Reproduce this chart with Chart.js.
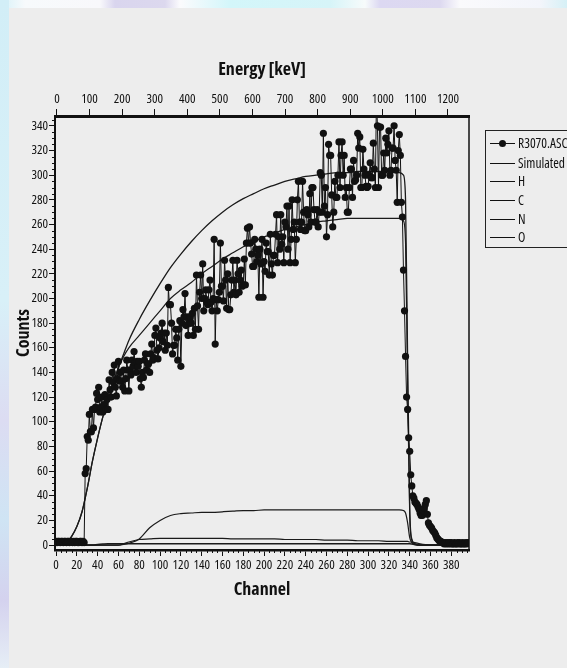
<!DOCTYPE html>
<html>
<head>
<meta charset="utf-8">
<script src="https://cdn.jsdelivr.net/npm/chart.js@4.4.1/dist/chart.umd.min.js"></script>
<style>
  html, body { margin: 0; padding: 0; }
  body { width: 567px; height: 668px; background: #ededed; position: relative; overflow: hidden; }
  #topstrip { position: absolute; left: 0; top: 0; width: 567px; height: 8px;
    background: linear-gradient(to right, #d6f1f8 0px, #f7fafc 25px, #f8f8fb 100px, #d9d5ee 115px, #dcd8ee 165px,
      #fbfbfd 180px, #d3f6fa 230px, #d6f4f8 330px, #f7fbfb 365px, #dcd8f2 380px, #ddd9f0 440px,
      #fafafc 460px, #f3f5fb 540px, #d6f0f6 567px); }
  #leftstrip { position: absolute; left: 0; top: 0; width: 9px; height: 668px;
    background: linear-gradient(to bottom, #d2eef7 0px, #d8f0f8 300px, #dcdcf2 420px, #cfe4f4 520px, #d4d2ee 600px, #e6eef6 668px); }
  canvas { position: absolute; left: 0; top: 0; }
  #legend { position: absolute; left: 485px; top: 130px; width: 95px; height: 118px; border: 1px solid #222;
    box-sizing: border-box; color: #111; font-family: 'Open Sans', sans-serif; font-stretch: condensed; font-size: 13.5px; }
  .row { position: absolute; left: 4px; height: 16px; display: flex; align-items: center; white-space: nowrap; }
  .ln { width: 25px; height: 0; border-top: 1px solid #111; position: relative; margin-right: 3px; }
  .dot { width: 7px; height: 7px; border-radius: 50%; background: #111; position: absolute; left: 9px; top: -4px; }
</style>
</head>
<body>
<div id="topstrip"></div>
<div id="leftstrip"></div>
<canvas id="spectrum" width="567" height="668"></canvas>
<div id="legend"></div>
<script>
// measured spectrum, one value per channel starting at channel 0
var measured = [
  3, 2, 3, 3, 2, 3, 3, 2, 3, 3,
  2, 3, 3, 2, 3, 3, 2, 3, 2, 3,
  3, 2, 2, 3, 3, 2, 3, 2, 58, 62,
  88, 85, 106, 92, 92, 110, 95, 110, 112, 123,
  118, 128, 108, 112, 120, 108, 114, 122, 110, 118,
  110, 134, 126, 120, 140, 132, 146, 128, 121, 135,
  149, 133, 140, 133, 128, 142, 125, 135, 150, 142,
  125, 142, 138, 150, 145, 157, 148, 140, 149, 145,
  149, 135, 128, 140, 136, 150, 155, 142, 147, 147,
  140, 155, 163, 150, 152, 170, 176, 158, 151, 160,
  168, 172, 180, 165, 172, 158, 172, 162, 209, 195,
  195, 180, 155, 162, 162, 175, 168, 150, 175, 182,
  145, 180, 191, 185, 204, 178, 185, 170, 180, 185,
  180, 188, 170, 192, 175, 219, 194, 175, 205, 219,
  200, 228, 190, 200, 207, 197, 195, 207, 215, 197,
  190, 200, 248, 163, 199, 190, 199, 205, 245, 210,
  210, 198, 231, 215, 192, 220, 191, 191, 203, 215,
  231, 205, 215, 203, 231, 220, 205, 215, 223, 210,
  211, 232, 211, 245, 257, 245, 258, 245, 236, 226,
  226, 248, 240, 230, 235, 201, 240, 228, 248, 201,
  230, 222, 245, 238, 238, 219, 252, 228, 219, 235,
  235, 252, 268, 229, 250, 240, 268, 244, 250, 229,
  262, 258, 275, 240, 275, 229, 248, 280, 256, 262,
  229, 248, 280, 295, 262, 256, 262, 295, 270, 255,
  255, 272, 268, 258, 285, 262, 290, 290, 272, 262,
  262, 272, 258, 270, 302, 300, 270, 334, 275, 290,
  250, 268, 325, 316, 316, 284, 258, 270, 295, 282,
  282, 300, 327, 290, 316, 327, 300, 316, 282, 290,
  270, 270, 290, 305, 305, 282, 312, 295, 296, 300,
  334, 322, 331, 290, 290, 321, 305, 300, 291, 290,
  291, 300, 310, 298, 298, 326, 305, 290, 362, 340,
  290, 339, 339, 300, 300, 318, 304, 330, 318, 325,
  336, 300, 304, 322, 322, 340, 312, 304, 278, 320,
  333, 316, 278, 266, 223, 190, 153, 120, 110, 87,
  76, 57, 48, 40, 38, 35, 34, 33, 31, 29,
  26, 24, 24, 28, 30, 33, 36, 25, 18, 16,
  15, 14, 12, 11, 10, 8, 6, 5, 4, 3,
  3, 2, 2, 1, 2, 1, 2, 1, 2, 1,
  2, 1, 1, 2, 1, 1, 2, 1, 2, 1,
  1, 2, 1, 1, 2, 1, 2
];

var curveCh = [0, 5, 10, 15, 20, 25, 30, 35, 40, 45, 50, 55, 60, 65, 70, 80, 90, 100, 110, 120,
  130, 140, 150, 160, 170, 180, 190, 200, 210, 220, 230, 240, 250, 260, 270, 280, 290, 300, 310, 320,
  330, 334, 336, 338, 340, 342, 345, 350, 355, 360, 396];
var simulated = [0, 0.5, 2, 7, 15, 27, 46, 68, 87, 104, 118, 131, 144, 155, 166, 183, 198, 212, 225, 236,
  246, 255, 263, 270, 276, 281, 285, 289, 292, 295, 297, 299, 300, 301, 302, 302, 303, 303, 303, 303,
  302, 300, 280, 150, 30, 5, 1, 0, 0, 0, 0];
var hCurve = [0, 0.5, 2, 7, 15, 27, 46, 68, 87, 104, 118, 131, 144, 153, 160, 170, 180, 190, 200, 207,
  213, 220, 226, 232, 237, 242, 246, 250, 253, 256, 258, 260, 262, 263, 264, 265, 265, 265, 265, 265,
  265, 263, 245, 130, 25, 4, 1, 0, 0, 0, 0];
var cCurve = [0, 0, 0, 0, 0, 0, 0, 0, 0, 0, 0, 0, 0, 0.5, 1.5, 5, 14, 20, 24, 25.5,
  26, 26.5, 26.5, 27, 27.5, 28, 28, 28.5, 28.5, 28.5, 28.5, 28.5, 28.5, 28.5, 28.5, 28.5, 28.5, 28.5, 28.5, 28.5,
  28.5, 28, 26, 18, 6, 2, 0.5, 0, 0, 0, 0];
var nCurve = [0, 0, 0, 0, 0, 0, 0, 0, 0, 0, 0, 0, 0, 1, 2.5, 4.5, 5, 5.5, 5.5, 5.5,
  5.5, 5.5, 5.5, 5.5, 5, 5, 5, 5, 5, 4.5, 4.5, 4.5, 4.5, 4, 4, 4, 3.5, 3.5, 3.5, 3,
  3, 3, 3, 3, 2.5, 2.5, 2, 1, 0.3, 0, 0];
var oCurve = [0, 0, 0, 0, 0, 0, 0, 0, 0.5, 0.8, 1, 1, 1, 1, 1, 1, 1, 1, 1, 1,
  1, 1, 1, 1, 1, 1, 1, 1, 1, 1, 1, 1, 1, 1, 1, 1, 1, 1, 1, 1,
  1, 1, 1, 1, 1, 0.8, 0.3, 0, 0, 0, 0];

var seriesNames = ['R3070.ASC', 'Simulated', 'H', 'C', 'N', 'O'];

// tick labels
var channelTicks = [0, 20, 40, 60, 80, 100, 120, 140, 160, 180, 200, 220, 240, 260, 280, 300, 320, 340, 360, 380];
var energyTicks = [0, 100, 200, 300, 400, 500, 600, 700, 800, 900, 1000, 1100, 1200];
var countTicks = [0, 20, 40, 60, 80, 100, 120, 140, 160, 180, 200, 220, 240, 260, 280, 300, 320, 340];

var measuredPts = measured.map((v, i) => ({x: i, y: v}));
function curvePts(arr) {
  return arr.map((v, i) => ({x: curveCh[i], y: v}));
}
function curveSet(name, arr, w) {
  return {
    label: name, data: curvePts(arr), borderColor: '#1a1a1a', borderWidth: w,
    pointRadius: 0, cubicInterpolationMode: 'monotone', fill: false
  };
}

// minor ticks every 5 units on the bottom and left axes, plus the right frame line
var frame = {
  id: 'frame',
  afterDraw(chart) {
    var ctx = chart.ctx, a = chart.chartArea;
    var xs = chart.scales.x, ys = chart.scales.y;
    ctx.save();
    ctx.strokeStyle = '#111';
    ctx.lineWidth = 1.5;
    ctx.beginPath();
    ctx.moveTo(a.right, a.top);
    ctx.lineTo(a.right, a.bottom);
    ctx.stroke();
    ctx.lineWidth = 1;
    ctx.beginPath();
    for (var v = 5; v < 397; v += 5) {
      if (v % 20 === 0) continue;
      var px = Math.round(xs.getPixelForValue(v)) + 0.5;
      ctx.moveTo(px, a.bottom);
      ctx.lineTo(px, a.bottom + 3);
    }
    for (var c = 5; c < 348; c += 5) {
      if (c % 20 === 0) continue;
      var py = Math.round(ys.getPixelForValue(c)) + 0.5;
      ctx.moveTo(a.left, py);
      ctx.lineTo(a.left - 3, py);
    }
    ctx.stroke();
    ctx.restore();
  }
};

Chart.defaults.font.family = "'Open Sans', sans-serif";
Chart.defaults.font.weight = 'condensed';
Chart.defaults.color = '#111';
var tickFont = { size: 13, weight: 'condensed' };
var titleFont = { size: 18, weight: 'bold condensed' };

var chart = new Chart(document.getElementById('spectrum'), {
  type: 'line',
  data: {
    datasets: [
      {
        label: seriesNames[0], data: measuredPts, borderColor: '#111', borderWidth: 1,
        pointRadius: 3.6, pointBackgroundColor: '#111', pointBorderWidth: 0, fill: false, clip: 0
      },
      curveSet(seriesNames[1], simulated, 1.3),
      curveSet(seriesNames[2], hCurve, 1.2),
      curveSet(seriesNames[3], cCurve, 1.2),
      curveSet(seriesNames[4], nCurve, 1.2),
      curveSet(seriesNames[5], oCurve, 1.5)
    ]
  },
  options: {
    responsive: false,
    animation: false,
    devicePixelRatio: 1,
    layout: { padding: { left: 8, top: 55, right: 98, bottom: 60 } },
    plugins: { legend: { display: false }, tooltip: { enabled: false } },
    scales: {
      x: {
        type: 'linear', position: 'bottom', min: -1, max: 397,
        afterBuildTicks: (a) => { a.ticks = channelTicks.map(v => ({value: v})); },
        afterFit: (a) => { a.height = 58; },
        ticks: { autoSkip: false, maxRotation: 0, padding: 1, font: tickFont, callback: v => String(v) },
        grid: { drawOnChartArea: false, tickLength: 6, color: '#111' },
        border: { color: '#111', width: 2.5 },
        title: { display: true, text: 'Channel', font: titleFont, padding: { top: 0, bottom: 7 } }
      },
      energy: {
        type: 'linear', position: 'top', min: -6, max: 1264.6,
        afterBuildTicks: (a) => { a.ticks = energyTicks.map(v => ({value: v})); },
        afterFit: (a) => { a.height = 61; },
        ticks: { autoSkip: false, maxRotation: 0, padding: 2, font: tickFont, callback: v => String(v) },
        grid: { drawOnChartArea: false, tickLength: 7, color: '#111' },
        border: { color: '#111', width: 3 },
        title: { display: true, text: 'Energy [keV]', font: titleFont, padding: { top: 4, bottom: 0 } }
      },
      y: {
        type: 'linear', min: -4, max: 348,
        afterBuildTicks: (a) => { a.ticks = countTicks.map(v => ({value: v})); },
        afterFit: (a) => { a.width = 47; },
        ticks: { autoSkip: false, padding: 1, font: tickFont, callback: v => String(v) },
        grid: { drawOnChartArea: false, tickLength: 6, color: '#111' },
        border: { color: '#111', width: 2 },
        title: { display: true, text: 'Counts', font: titleFont, padding: { top: 5, bottom: 0 } }
      }
    }
  },
  plugins: [frame]
});

// legend box on the right
var rowCenters = [143, 163, 181, 200, 219, 237];
var legend = document.getElementById('legend');
chart.data.datasets.forEach((ds, i) => {
  var row = document.createElement('div');
  row.className = 'row';
  row.style.top = (rowCenters[i] - 131 - 8) + 'px';
  var ln = document.createElement('span');
  ln.className = 'ln';
  if (i === 0) {
    var dot = document.createElement('span');
    dot.className = 'dot';
    ln.appendChild(dot);
  }
  row.appendChild(ln);
  row.appendChild(document.createTextNode(ds.label));
  legend.appendChild(row);
});
</script>
</body>
</html>
